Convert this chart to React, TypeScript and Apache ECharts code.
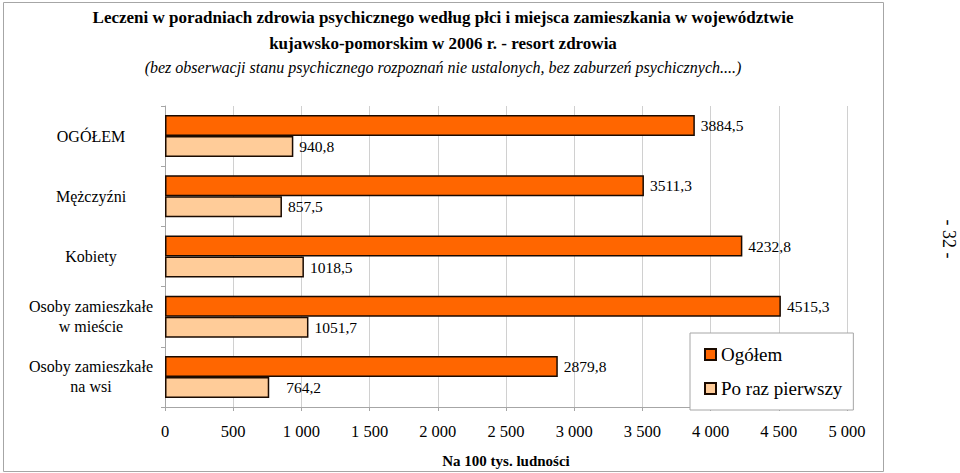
import React, { useEffect, useRef } from "react";
import * as echarts from "echarts";

const categories = [
  "OGÓŁEM",
  "Mężczyźni",
  "Kobiety",
  "Osoby zamieszkałe\nw mieście",
  "Osoby zamieszkałe\nna wsi",
];
const ogolem = [3884.5, 3511.3, 4232.8, 4515.3, 2879.8];
const poRazPierwszy = [940.8, 857.5, 1018.5, 1051.7, 764.2];
const seriesNames = ["Ogółem", "Po raz pierwszy"];
const titleLines = [
  "Leczeni w poradniach zdrowia psychicznego według płci i miejsca zamieszkania w województwie",
  "kujawsko-pomorskim w 2006 r. - resort zdrowia",
  "(bez obserwacji stanu psychicznego rozpoznań nie ustalonych, bez zaburzeń psychicznych....)",
];
const axisName = "Na 100 tys. ludności";
const pageLabel = "- 32 -";

const SERIF = "Liberation Serif, serif";

const fmtDec = (v: number) => v.toFixed(1).replace(".", ",");
const fmtThousands = (v: number) =>
  v >= 1000 ? `${Math.floor(v / 1000)} ${String(v % 1000).padStart(3, "0")}` : String(v);

export default function App() {
  const ref = useRef<HTMLDivElement>(null);
  useEffect(() => {
    if (!ref.current) return;
    const chart = echarts.init(ref.current, null, { renderer: "svg" });
    const labelBase = {
      show: true,
      position: "right",
      distance: 6,
      color: "#000",
      fontFamily: SERIF,
      fontSize: 15.5,
      formatter: (p: any) => fmtDec(p.value),
    };
    chart.setOption({
      animation: false,
      backgroundColor: "#fff",
      textStyle: { fontFamily: SERIF },
      grid: { left: 165, right: 113, top: 106, bottom: 59, containLabel: false },
      graphic: [
        {
          type: "rect",
          shape: { x: 3.5, y: 2.5, width: 880, height: 469 },
          style: { fill: "none", stroke: "#a6a6a6", lineWidth: 1 },
          silent: true,
        },
        {
          type: "text",
          x: 443,
          y: 17,
          style: {
            text: titleLines[0],
            align: "center",
            verticalAlign: "middle",
            font: `bold 17px ${SERIF}`,
            fill: "#000",
          },
        },
        {
          type: "text",
          x: 443,
          y: 43,
          style: {
            text: titleLines[1],
            align: "center",
            verticalAlign: "middle",
            font: `bold 17px ${SERIF}`,
            fill: "#000",
          },
        },
        {
          type: "text",
          x: 443,
          y: 67,
          style: {
            text: titleLines[2],
            align: "center",
            verticalAlign: "middle",
            font: `italic 16px ${SERIF}`,
            fill: "#000",
          },
        },
        {
          type: "text",
          x: 949,
          y: 239,
          rotation: -Math.PI / 2,
          style: {
            text: pageLabel,
            align: "center",
            verticalAlign: "middle",
            font: `18px ${SERIF}`,
            fill: "#000",
          },
        },
      ],
      legend: {
        orient: "vertical",
        left: 690,
        top: 333,
        padding: [12, 11, 12, 14],
        itemGap: 15,
        itemWidth: 11,
        itemHeight: 11,
        icon: "rect",
        backgroundColor: "#fff",
        borderColor: "#a6a6a6",
        borderWidth: 1,
        textStyle: { fontFamily: SERIF, fontSize: 19, color: "#000" },
        data: seriesNames,
      },
      xAxis: {
        type: "value",
        min: 0,
        max: 5000,
        interval: 500,
        name: axisName,
        nameLocation: "middle",
        nameGap: 46,
        nameTextStyle: { fontFamily: SERIF, fontSize: 15, fontWeight: "bold", color: "#000" },
        axisLine: { show: true, lineStyle: { color: "#a6a6a6", width: 1 } },
        axisTick: { show: true, length: 4, lineStyle: { color: "#a6a6a6" } },
        axisLabel: {
          margin: 16,
          fontFamily: SERIF,
          fontSize: 16.5,
          color: "#000",
          formatter: (v: number) => fmtThousands(v),
        },
        splitLine: { show: true, lineStyle: { color: "#d0d0d0", width: 1 } },
      },
      yAxis: {
        type: "category",
        inverse: true,
        data: categories,
        axisLine: { show: true, lineStyle: { color: "#a6a6a6", width: 1 } },
        axisTick: { show: true, length: 4, inside: false, lineStyle: { color: "#a6a6a6" } },
        axisLabel: {
          margin: 74,
          align: "center",
          fontFamily: SERIF,
          fontSize: 16,
          lineHeight: 20,
          color: "#000",
        },
        splitLine: { show: false },
      },
      series: [
        {
          name: seriesNames[0],
          type: "bar",
          data: ogolem,
          barWidth: 21,
          barGap: "0%",
          itemStyle: { color: "#FF6600", borderColor: "#1a0a00", borderWidth: 1.5 },
          label: labelBase,
        },
        {
          name: seriesNames[1],
          type: "bar",
          data: poRazPierwszy.map((v, i) =>
            i === poRazPierwszy.length - 1 ? { value: v, label: { distance: 17 } } : v
          ),
          barWidth: 21,
          barGap: "0%",
          itemStyle: { color: "#FFCC99", borderColor: "#1a0a00", borderWidth: 1.5 },
          label: labelBase,
        },
      ],
    });
    return () => chart.dispose();
  }, []);
  return (
    <div
      ref={ref}
      style={{ position: "absolute", left: 0, top: 0, width: 960, height: 473 }}
    />
  );
}
